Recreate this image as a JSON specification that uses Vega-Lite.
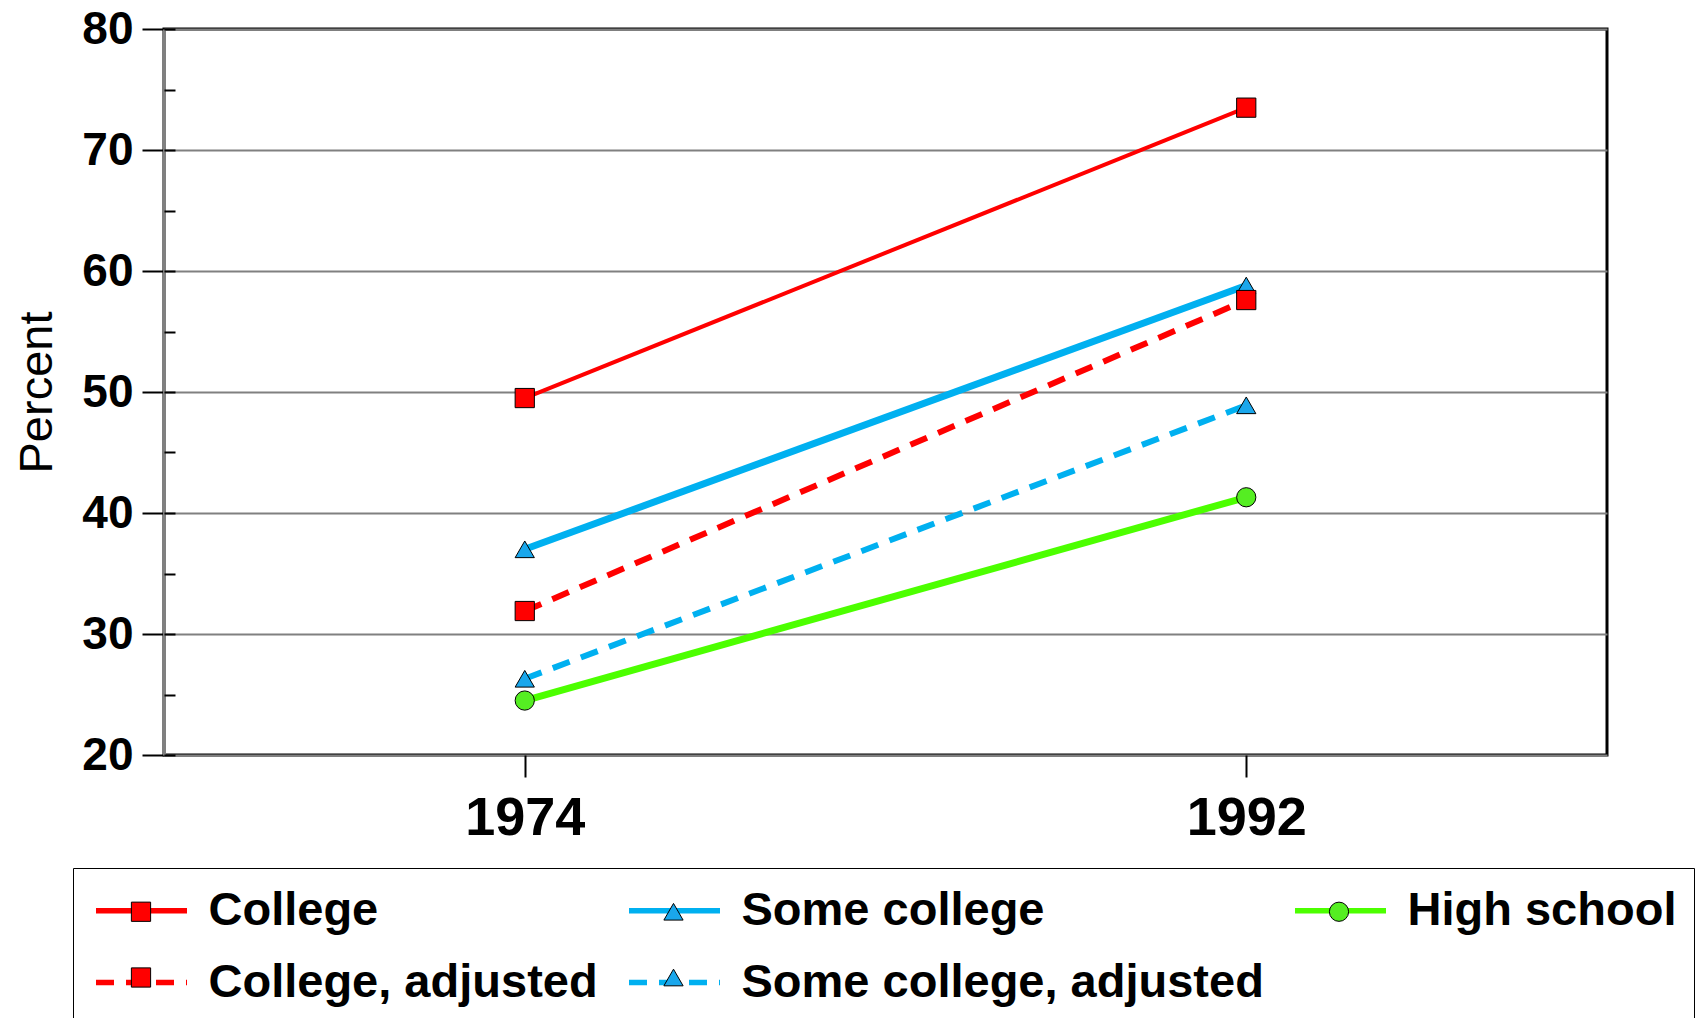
{
  "$schema": "https://vega.github.io/schema/vega-lite/v6.json",
  "width": 1443,
  "height": 726,
  "autosize": {"type": "none"},
  "padding": {"left": 164, "top": 29, "right": 95, "bottom": 263},
  "background": "white",
  "config": {
    "font": "Liberation Sans",
    "view": {"stroke": "black", "strokeWidth": 3}
  },
  "data": {
    "values": [
      {"series": "College", "year": 1974, "pct": 49.5},
      {"series": "College", "year": 1992, "pct": 73.5},
      {"series": "Some college", "year": 1974, "pct": 37.0},
      {"series": "Some college", "year": 1992, "pct": 58.8},
      {"series": "High school", "year": 1974, "pct": 24.5},
      {"series": "High school", "year": 1992, "pct": 41.3},
      {"series": "College, adjusted", "year": 1974, "pct": 31.9},
      {"series": "College, adjusted", "year": 1992, "pct": 57.6},
      {"series": "Some college, adjusted", "year": 1974, "pct": 26.3},
      {"series": "Some college, adjusted", "year": 1992, "pct": 48.9}
    ]
  },
  "layer": [
    {
      "encoding": {
        "x": {
          "field": "year", "type": "quantitative",
          "scale": {"domain": [1965, 2001], "nice": false, "zero": false},
          "axis": {
            "values": [1974, 1992], "format": "d", "title": null,
            "labelFontSize": 54, "labelFontWeight": "bold", "labelColor": "black",
            "labelPadding": 14, "labelFlush": false, "labelOverlap": false,
            "tickSize": 22, "tickWidth": 2, "tickColor": "black",
            "domain": false, "grid": false
          }
        },
        "y": {
          "field": "pct", "type": "quantitative",
          "scale": {"domain": [20, 80], "nice": false, "zero": false},
          "axis": {
            "orient": "left",
            "values": [20, 30, 40, 50, 60, 70, 80],
            "title": "Percent", "titleFontSize": 47, "titleFontWeight": "normal",
            "titleColor": "black", "titlePadding": 20,
            "labelFontSize": 46, "labelFontWeight": "bold", "labelColor": "black",
            "labelPadding": 9, "labelFlush": false, "labelOverlap": false,
            "tickSize": 22, "tickWidth": 2, "tickColor": "black",
            "grid": true, "gridColor": "#808080", "gridWidth": 2,
            "domain": true, "domainColor": "#808080", "domainWidth": 3
          }
        },
        "color": {
          "field": "series", "type": "nominal",
          "scale": {
            "domain": ["College", "College, adjusted", "Some college", "Some college, adjusted", "High school"],
            "range": ["#FF0000", "#FF0000", "#00B0F0", "#00B0F0", "#4CFF00"]
          },
          "legend": {
            "orient": "none", "legendX": -71, "legendY": 833, "columns": 3, "title": null,
            "labelFont": "Liberation Sans", "labelFontSize": 47, "labelFontWeight": "bold", "labelColor": "black",
            "labelLimit": 1000, "labelOffset": 18.5,
            "symbolType": "stroke", "symbolSize": 8281, "symbolStrokeWidth": 5.5,
            "columnPadding": 20, "rowPadding": -4, "padding": 0
          }
        },
        "strokeDash": {
          "field": "series", "type": "nominal",
          "scale": {
            "domain": ["College", "College, adjusted", "Some college", "Some college, adjusted", "High school"],
            "range": [[2000, 1], [18, 12], [2000, 1], [18, 12], [2000, 1]]
          },
          "legend": {
            "orient": "none", "legendX": -71, "legendY": 833, "columns": 3, "title": null,
            "labelFont": "Liberation Sans", "labelFontSize": 47, "labelFontWeight": "bold", "labelColor": "black",
            "labelLimit": 1000, "labelOffset": 18.5,
            "symbolType": "stroke", "symbolSize": 8281, "symbolStrokeWidth": 5.5,
            "columnPadding": 20, "rowPadding": -4, "padding": 0
          }
        }
      },
      "layer": [
        {
          "transform": [{"filter": {"field": "series", "equal": "College"}}],
          "mark": {"type": "line", "strokeWidth": 4, "strokeCap": "butt"}
        },
        {
          "transform": [{"filter": {"field": "series", "oneOf": ["Some college", "High school"]}}],
          "mark": {"type": "line", "strokeWidth": 7, "strokeCap": "butt"}
        },
        {
          "transform": [{"filter": {"field": "series", "oneOf": ["College, adjusted", "Some college, adjusted"]}}],
          "mark": {"type": "line", "strokeWidth": 6, "strokeCap": "butt"}
        }
      ]
    },
    {
      "mark": {"type": "point", "filled": true, "opacity": 1, "stroke": "black", "strokeWidth": 1, "size": 370},
      "encoding": {
        "x": {"field": "year", "type": "quantitative"},
        "y": {
          "field": "pct", "type": "quantitative",
          "axis": {
            "orient": "left",
            "values": [20, 25, 30, 35, 40, 45, 50, 55, 60, 65, 70, 75, 80],
            "title": null, "labels": false, "domain": false, "grid": false,
            "tickSize": -11, "tickWidth": 2, "tickColor": "black"
          }
        },
        "color": {
          "field": "series", "type": "nominal",
          "scale": {
            "domain": ["College", "College, adjusted", "Some college", "Some college, adjusted", "High school"],
            "range": ["#FF0000", "#FF0000", "#1AA7EC", "#1AA7EC", "#55EE22"]
          },
          "legend": {
            "orient": "none", "legendX": -91, "legendY": 839, "columns": 3, "title": null,
            "labelFont": "Liberation Sans", "labelFontSize": 47, "labelFontWeight": "bold", "labelOpacity": 0,
            "labelLimit": 1000, "labelOffset": 42.5, "symbolOffset": 24.5,
            "symbolSize": 370, "symbolStrokeWidth": 1, "symbolStrokeColor": "black",
            "columnPadding": 28.5, "rowPadding": 18, "padding": 20,
            "strokeColor": "black",
            "encode": {"legend": {"update": {"strokeWidth": {"value": 3}}}}
          }
        },
        "shape": {
          "field": "series", "type": "nominal",
          "scale": {
            "domain": ["College", "College, adjusted", "Some college", "Some college, adjusted", "High school"],
            "range": ["square", "square", "triangle-up", "triangle-up", "circle"]
          },
          "legend": {
            "orient": "none", "legendX": -91, "legendY": 839, "columns": 3, "title": null,
            "labelFont": "Liberation Sans", "labelFontSize": 47, "labelFontWeight": "bold", "labelOpacity": 0,
            "labelLimit": 1000, "labelOffset": 42.5, "symbolOffset": 24.5,
            "symbolSize": 370, "symbolStrokeWidth": 1, "symbolStrokeColor": "black",
            "columnPadding": 28.5, "rowPadding": 18, "padding": 20,
            "strokeColor": "black",
            "encode": {"legend": {"update": {"strokeWidth": {"value": 3}}}}
          }
        }
      }
    }
  ],
  "resolve": {
    "scale": {"color": "independent", "strokeDash": "independent", "shape": "independent"},
    "axis": {"y": "independent"}
  }
}
